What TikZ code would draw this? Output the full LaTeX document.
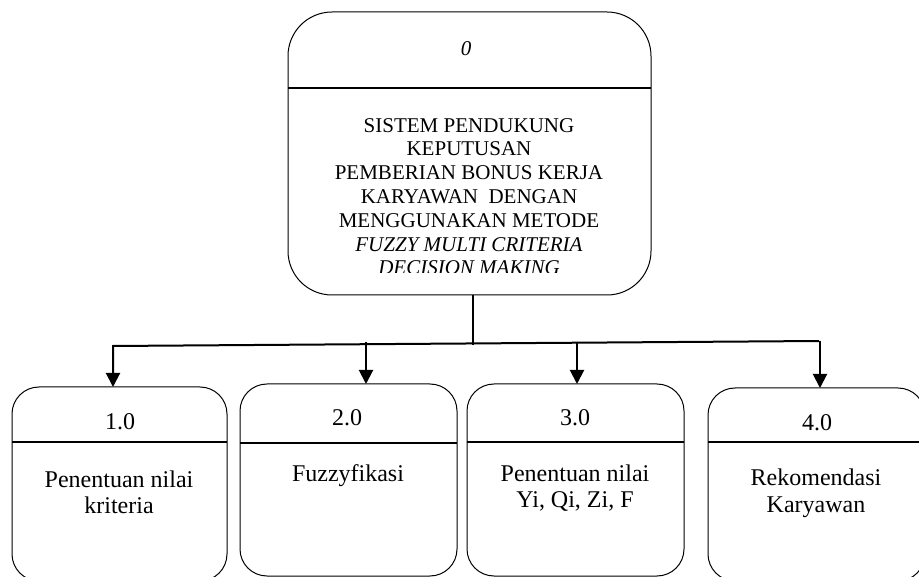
\documentclass[tikz,border=0pt]{standalone}
\usepackage{fontspec}
\setmainfont{Liberation Serif}
\usetikzlibrary{arrows.meta}
\begin{document}
\begin{tikzpicture}[x=1pt,y=-1pt,
  procbox/.style={draw, line width=1pt, rounded corners=#1, inner sep=0pt, outer sep=0pt, fill=white},
  procbox/.default=27pt,
  divider/.style={line width=1.3pt},
  bus/.style={line width=2pt},
  flow/.style={line width=2pt, -{Triangle[length=14pt,width=14pt]}},
  numtxt/.style={inner sep=0pt, anchor=base, font=\fontsize{24}{26}\selectfont},
  bodytxt/.style={inner sep=0pt, anchor=base, align=center, font=\fontsize{24}{26}\selectfont},
]
\useasboundingbox (0,0) rectangle (919,577);
\clip (0,0) rectangle (919,577);

% context process 0
\node[procbox=44pt, minimum width=363pt, minimum height=283pt] (p0) at (469.5,153.5) {};
\draw[divider] ([yshift=-76pt]p0.north west) -- ([yshift=-76pt]p0.north east);
\node[inner sep=0pt, anchor=base, font=\fontsize{21}{23}\selectfont\itshape] (n0) at (466,56) {0};
\begin{scope}
  % the description is cut off by the bottom of the process box
  \clip (290,90) rectangle (649,273);
  \node[inner sep=0pt, anchor=base, align=center, font=\fontsize{21}{23.8}\selectfont] (t0) at (469,275)
    {SISTEM PENDUKUNG\\KEPUTUSAN\\PEMBERIAN BONUS KERJA\\KARYAWAN~ DENGAN\\MENGGUNAKAN METODE\\
     \textit{FUZZY MULTI CRITERIA}\\\textit{DECISION MAKING}};
\end{scope}

% sub-processes
\node[procbox, minimum width=215pt, minimum height=194pt] (p1) at (119.5,484) {};
\node[procbox, minimum width=217pt, minimum height=192pt] (p2) at (348.5,480) {};
\node[procbox, minimum width=217pt, minimum height=192pt] (p3) at (575.5,480) {};
\node[procbox, minimum width=217pt, minimum height=193pt] (p4) at (816.5,484.5) {};

\draw[divider] ([yshift=-55pt]p1.north west) -- ([yshift=-55pt]p1.north east);
\draw[divider] ([yshift=-59pt]p2.north west) -- ([yshift=-59pt]p2.north east);
\draw[divider] ([yshift=-58pt]p3.north west) -- ([yshift=-58pt]p3.north east);
\draw[divider] ([yshift=-54pt]p4.north west) -- ([yshift=-54pt]p4.north east);

\node[numtxt] (n1) at (120,430) {1.0};
\node[numtxt] (n2) at (347,426) {2.0};
\node[numtxt] (n3) at (575,426) {3.0};
\node[numtxt] (n4) at (817,431) {4.0};

\node[bodytxt] (b1) at (119,513) {Penentuan nilai\\kriteria};
\node[bodytxt] (b2) at (348,481) {Fuzzyfikasi};
\node[bodytxt, font=\fontsize{24}{25}\selectfont] (b3) at (575,507) {Penentuan nilai\\Yi, Qi, Zi, F};
\node[bodytxt, font=\fontsize{24}{27}\selectfont] (b4) at (816,512) {Rekomendasi\\Karyawan};

% flows
\coordinate (trunk) at ([xshift=3.5pt]p0.south);
\coordinate (busL) at (113,346);
\coordinate (busR) at (819,341);
\coordinate (j0) at (473,345);
\coordinate (a2) at (366,342);
\coordinate (a3) at (577,342);
\coordinate (a4) at (820,341);

\draw[bus] (trunk) -- (j0);
\draw[flow] (busR) -- (busL) -- (busL |- p1.north);
\draw[flow] (a2) -- (a2 |- p2.north);
\draw[flow] (a3) -- (a3 |- p3.north);
\draw[flow] (a4) -- (a4 |- p4.north);
\end{tikzpicture}
\end{document}
